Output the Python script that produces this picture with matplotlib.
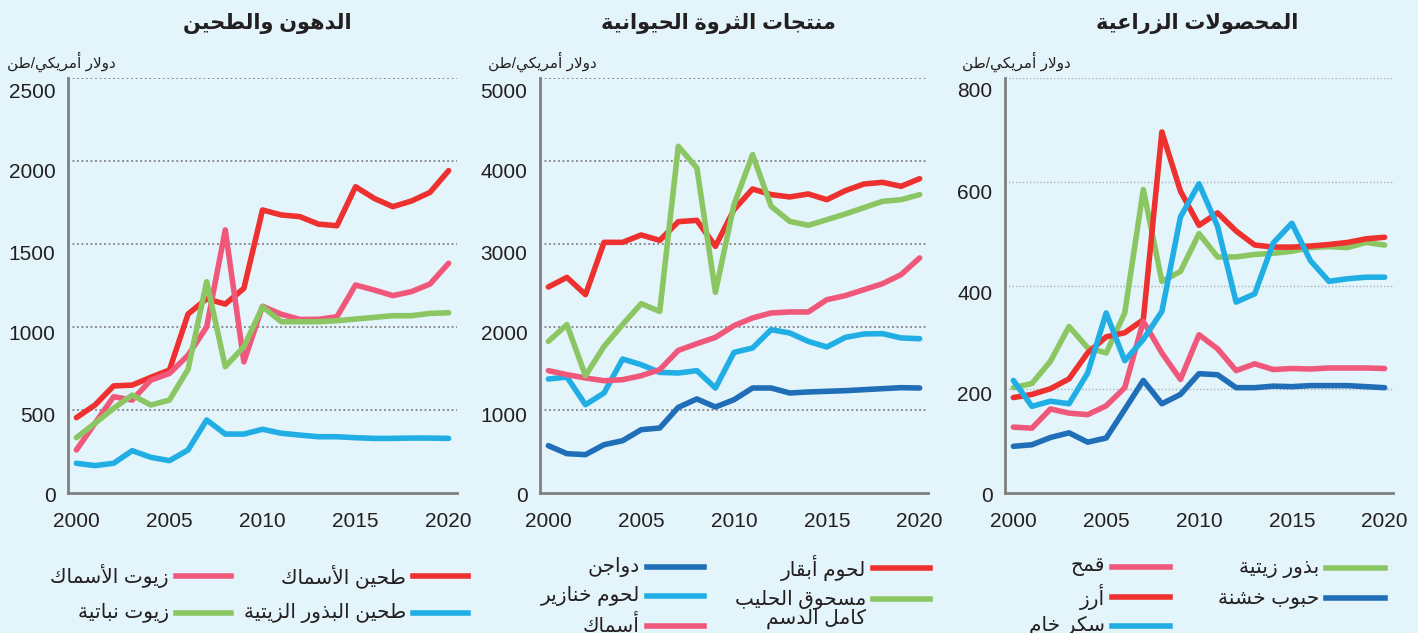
import matplotlib
matplotlib.use('Agg')
import matplotlib.pyplot as plt
from matplotlib.lines import Line2D
from matplotlib.transforms import ScaledTranslation

# ---------------- data ----------------
years = list(range(2000, 2021))

# Panel 1: oils and meals (USD/tonne)
fish_meal = [454, 530, 645, 650, 697, 741, 1078, 1170, 1138, 1233, 1705, 1675, 1665,
             1620, 1610, 1845, 1775, 1725, 1759, 1811, 1942]
fish_oil = [259, 420, 580, 560, 680, 720, 830, 1000, 1585, 790, 1125, 1077, 1046,
            1046, 1062, 1253, 1223, 1189, 1213, 1259, 1384]
veg_oils = [333, 420, 510, 590, 530, 560, 745, 1273, 761, 881, 1122, 1032, 1032,
            1032, 1038, 1048, 1058, 1068, 1068, 1082, 1086]
oilseed_meal = [179, 165, 179, 255, 215, 195, 259, 440, 355, 355, 384, 360, 349,
                339, 339, 333, 329, 329, 331, 331, 329]

# Panel 2: livestock products
beef = [2482, 2598, 2390, 3020, 3020, 3109, 3044, 3269, 3285, 2972, 3414, 3663, 3595,
        3567, 3603, 3534, 3643, 3723, 3743, 3695, 3787]
milk_powder = [1827, 2028, 1413, 1767, 2030, 2281, 2188, 4177, 3916, 2418, 3474, 4077,
               3454, 3273, 3225, 3293, 3362, 3438, 3514, 3534, 3595]
poultry = [570, 474, 462, 582, 630, 763, 783, 1032, 1133, 1036, 1124, 1265, 1265,
           1205, 1217, 1225, 1233, 1245, 1257, 1269, 1265]
pork = [1373, 1397, 1064, 1205, 1614, 1546, 1453, 1446, 1474, 1265, 1694, 1747, 1968,
        1928, 1827, 1759, 1875, 1916, 1920, 1868, 1859]
fish = [1474, 1426, 1386, 1353, 1365, 1413, 1486, 1718, 1799, 1875, 2016, 2109, 2169,
        2181, 2181, 2329, 2378, 2450, 2522, 2631, 2832]

# Panel 3: crops
rice = [184, 190, 201, 220, 270, 301, 309, 334, 696, 582, 516, 540, 505, 478, 474,
        474, 476, 479, 483, 490, 493]
oilseeds = [203, 211, 254, 321, 280, 270, 347, 585, 408, 427, 500, 455, 455, 460,
            462, 466, 473, 475, 473, 483, 478]
sugar = [217, 167, 177, 172, 231, 347, 255, 296, 350, 532, 596, 514, 368, 384, 482,
         520, 448, 408, 413, 416, 416]
wheat = [127, 125, 162, 154, 151, 168, 203, 331, 270, 219, 305, 278, 236, 249, 238,
         240, 239, 241, 241, 241, 240]
coarse_grains = [90, 93, 107, 116, 98, 106, 161, 217, 172, 190, 230, 228, 203, 203,
                 206, 205, 207, 207, 207, 205, 203]

titles = ["الدهون والطحين", "منتجات الثروة الحيوانية", "المحصولات الزراعية"]
unit_label = "دولار أمريكي/طن"
x_ticks = [2000, 2005, 2010, 2015, 2020]
y_ticks = [[0, 500, 1000, 1500, 2000, 2500],
           [0, 1000, 2000, 3000, 4000, 5000],
           [0, 200, 400, 600, 800]]

RED = '#EE302E'
PINK = '#F0587B'
GREEN = '#8BC663'
LBLUE = '#20AEE5'
DBLUE = '#1F6EB7'
BG = '#E3F4FB'
AX = '#7F7F7F'
TXT = '#231F20'

# ---------------- minimal Arabic shaping (contextual forms + RTL order) -------
_FORMS = {'ء': (0xFE80, 1), 'آ': (0xFE81, 2), 'أ': (0xFE83, 2), 'ؤ': (0xFE85, 2),
          'إ': (0xFE87, 2), 'ئ': (0xFE89, 4), 'ا': (0xFE8D, 2), 'ب': (0xFE8F, 4),
          'ة': (0xFE93, 2), 'ت': (0xFE95, 4), 'ث': (0xFE99, 4), 'ج': (0xFE9D, 4),
          'ح': (0xFEA1, 4), 'خ': (0xFEA5, 4), 'د': (0xFEA9, 2), 'ذ': (0xFEAB, 2),
          'ر': (0xFEAD, 2), 'ز': (0xFEAF, 2), 'س': (0xFEB1, 4), 'ش': (0xFEB5, 4),
          'ص': (0xFEB9, 4), 'ض': (0xFEBD, 4), 'ط': (0xFEC1, 4), 'ظ': (0xFEC5, 4),
          'ع': (0xFEC9, 4), 'غ': (0xFECD, 4), 'ف': (0xFED1, 4), 'ق': (0xFED5, 4),
          'ك': (0xFED9, 4), 'ل': (0xFEDD, 4), 'م': (0xFEE1, 4), 'ن': (0xFEE5, 4),
          'ه': (0xFEE9, 4), 'و': (0xFEED, 2), 'ى': (0xFEEF, 2), 'ي': (0xFEF1, 4)}
_LAMALEF = {'آ': 0xFEF5, 'أ': 0xFEF7, 'إ': 0xFEF9, 'ا': 0xFEFB}


def _shape_line(text):
    toks = []
    i = 0
    while i < len(text):
        c = text[i]
        if c == 'ل' and i + 1 < len(text) and text[i + 1] in _LAMALEF:
            toks.append((_LAMALEF[text[i + 1]], 2))
            i += 2
            continue
        toks.append(_FORMS.get(c, (c, 0)))
        i += 1
    out = []
    for k, (b, n) in enumerate(toks):
        if n == 0:
            out.append(b)
            continue
        pj = k > 0 and toks[k - 1][1] == 4
        nj = k + 1 < len(toks) and toks[k + 1][1] >= 2
        if n == 1:
            cp = b
        elif n == 2:
            cp = b + 1 if pj else b
        else:
            if pj and nj:
                cp = b + 3
            elif pj:
                cp = b + 1
            elif nj:
                cp = b + 2
            else:
                cp = b
        out.append(chr(cp))
    return ''.join(reversed(out))


def ar(text):
    return '\n'.join(_shape_line(t) for t in text.split('\n'))


# ---------------- figure ----------------
plt.rcParams['font.family'] = ['Liberation Sans', 'DejaVu Sans']
fig = plt.figure(figsize=(14.18, 6.33), dpi=100, facecolor=BG)
W, H = 1418.0, 633.0

panels = [
    dict(left=68, right=457, ylim=2500, ticks=y_ticks[0], grid=(AX, 1.3),
         series=[(fish_meal, RED), (fish_oil, PINK), (veg_oils, GREEN), (oilseed_meal, LBLUE)],
         title_x=267, unit_x=7),
    dict(left=540, right=928, ylim=5000, ticks=y_ticks[1], grid=(AX, 1.3),
         series=[(beef, RED), (pork, LBLUE), (fish, PINK), (milk_powder, GREEN), (poultry, DBLUE)],
         title_x=718, unit_x=488),
    dict(left=1005, right=1393, ylim=800, ticks=y_ticks[2], grid=('#A8B4BA', 1.0),
         series=[(oilseeds, GREEN), (rice, RED), (wheat, PINK), (coarse_grains, DBLUE), (sugar, LBLUE)],
         title_x=1197, unit_x=962),
]

top_px, bot_px = 78, 493
for i, p in enumerate(panels):
    ax = fig.add_axes([p['left'] / W, 1 - bot_px / H, (p['right'] - p['left']) / W,
                       (bot_px - top_px) / H])
    ax.set_facecolor(BG)
    for vals, col in p['series']:
        ax.plot(years, vals, color=col, lw=4.0, solid_joinstyle='round',
                solid_capstyle='round')
    ax.set_xlim(1999.55, 2020.45)
    ax.set_ylim(0, p['ylim'])
    for t in p['ticks'][1:]:
        ax.axhline(t, color=p['grid'][0], lw=p['grid'][1], ls=(0, (1, 1.5)), zorder=0.5)
    ax.set_xticks(x_ticks)
    ax.set_yticks(p['ticks'])
    ax.tick_params(length=0, labelsize=15, colors=TXT)
    ax.tick_params(axis='x', pad=14)
    ax.tick_params(axis='y', pad=9)
    for t, lab in zip(p['ticks'], ax.get_yticklabels()):
        dy = (2 + 10 * t / p['ylim']) / 100.0
        lab.set_transform(lab.get_transform() + ScaledTranslation(0, -dy, fig.dpi_scale_trans))
    for s in ['top', 'right']:
        ax.spines[s].set_visible(False)
    for s in ['left', 'bottom']:
        ax.spines[s].set_color(AX)
        ax.spines[s].set_linewidth(2)
    fig.text(p['title_x'] / W, 1 - 23 / H, ar(titles[i]), ha='center', va='center',
             fontsize=15, fontweight='bold', color=TXT)
    fig.text(p['unit_x'] / W, 1 - 62 / H, ar(unit_label), ha='left', va='center',
             fontsize=11, color=TXT)

# ---------------- legends (right-to-left) ----------------
legend_items = [
    # (label, colour, seg_left_px, seg_right_px, y_px)
    ("طحين الأسماك", RED, 413, 468, 576),
    ("طحين البذور الزيتية", LBLUE, 413, 468, 613),
    ("زيوت الأسماك", PINK, 176, 231, 576),
    ("زيوت نباتية", GREEN, 176, 231, 613),
    ("لحوم أبقار", RED, 873, 930, 568),
    ("مسحوق الحليب\nكامل الدسم", GREEN, 873, 930, 599),
    ("دواجن", DBLUE, 647, 704, 567),
    ("لحوم خنازير", LBLUE, 647, 704, 596),
    ("أسماك", PINK, 647, 704, 626),
    ("بذور زيتية", GREEN, 1326, 1385, 568),
    ("حبوب خشنة", DBLUE, 1326, 1385, 598),
    ("قمح", PINK, 1112, 1170, 567),
    ("أرز", RED, 1112, 1170, 597),
    ("سكر خام", LBLUE, 1112, 1170, 626),
]
for label, col, x0, x1, y in legend_items:
    fig.add_artist(Line2D([x0 / W, x1 / W], [1 - y / H, 1 - y / H], color=col, lw=4.0,
                          transform=fig.transFigure))
    ty = y + 10 if '\n' in label else y
    fig.text((x0 - 7) / W, 1 - ty / H, ar(label), ha='right', va='center',
             fontsize=14.5, color=TXT, linespacing=0.95,
             transform=fig.transFigure)

fig.savefig('out.png', dpi=100, facecolor=BG)
